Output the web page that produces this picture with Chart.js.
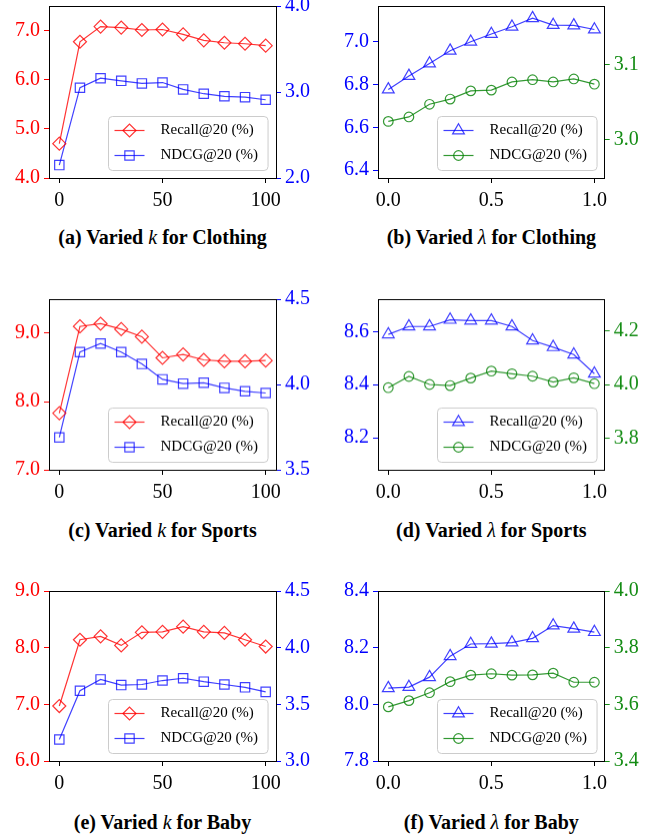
<!DOCTYPE html>
<html>
<head>
<meta charset="utf-8">
<script src="https://cdn.jsdelivr.net/npm/chart.js@4.4.0/dist/chart.umd.min.js"></script>
<style>
body { margin: 0; background: #fff; width: 666px; height: 838px; position: relative; overflow: hidden; }
canvas { position: absolute; }
.cap { position: absolute; width: 300px; text-align: center; font: bold 20px "Liberation Serif", "Times New Roman", serif; line-height: 20px; color: #000; white-space: nowrap; }
.cap i { font-weight: normal; }
</style>
</head>
<body>
<div id="wrap"></div>
<script>
// x values and ticks
const kValues = [0, 10, 20, 30, 40, 50, 60, 70, 80, 90, 100]
const lambdaValues = [0, 0.1, 0.2, 0.3, 0.4, 0.5, 0.6, 0.7, 0.8, 0.9, 1.0]
const kTicks = [0, 50, 100]
const lambdaTicks = [0, 0.5, 1.0]

// Clothing
const clothingKRecall = [4.70, 6.78, 7.09, 7.07, 7.02, 7.03, 6.93, 6.81, 6.76, 6.74, 6.70]
const clothingKNdcg = [2.15, 3.05, 3.16, 3.13, 3.10, 3.11, 3.03, 2.98, 2.95, 2.94, 2.91]
const clothingLRecall = [6.777, 6.840, 6.898, 6.958, 7.000, 7.036, 7.070, 7.110, 7.078, 7.076, 7.057]
const clothingLNdcg = [3.024, 3.030, 3.047, 3.054, 3.065, 3.066, 3.077, 3.080, 3.077, 3.081, 3.074]
// Sports
const sportsKRecall = [7.83, 9.10, 9.14, 9.06, 8.95, 8.64, 8.69, 8.61, 8.59, 8.59, 8.60]
const sportsKNdcg = [3.69, 4.19, 4.24, 4.19, 4.12, 4.03, 4.005, 4.01, 3.98, 3.96, 3.95]
const sportsLRecall = [8.589, 8.619, 8.619, 8.644, 8.641, 8.641, 8.619, 8.566, 8.541, 8.513, 8.441]
const sportsLNdcg = [3.988, 4.030, 4.000, 3.996, 4.024, 4.050, 4.040, 4.031, 4.009, 4.025, 4.003]
// Baby
const babyKRecall = [6.97, 8.14, 8.20, 8.04, 8.27, 8.28, 8.37, 8.28, 8.26, 8.14, 8.02]
const babyKNdcg = [3.19, 3.62, 3.72, 3.67, 3.675, 3.71, 3.73, 3.70, 3.675, 3.65, 3.61]
const babyLRecall = [8.057, 8.061, 8.096, 8.170, 8.213, 8.214, 8.218, 8.233, 8.278, 8.267, 8.255]
const babyLNdcg = [3.591, 3.613, 3.641, 3.680, 3.703, 3.708, 3.703, 3.704, 3.710, 3.678, 3.678]

// y ticks and limits
const aLeftTicks = [4.0, 5.0, 6.0, 7.0], aLeftLim = [4.0, 7.51]
const aRightTicks = [2.0, 3.0, 4.0], aRightLim = [2.0, 4.0]
const bLeftTicks = [6.4, 6.6, 6.8, 7.0], bLeftLim = [6.363, 7.167]
const bRightTicks = [3.0, 3.1], bRightLim = [2.948, 3.179]
const cLeftTicks = [7.0, 8.0, 9.0], cLeftLim = [7.0, 9.5]
const cRightTicks = [3.5, 4.0, 4.5], cRightLim = [3.5, 4.5]
const dLeftTicks = [8.2, 8.4, 8.6], dLeftLim = [8.079, 8.722]
const dRightTicks = [3.8, 4.0, 4.2], dRightLim = [3.681, 4.319]
const eLeftTicks = [6.0, 7.0, 8.0, 9.0], eLeftLim = [6.0, 9.0]
const eRightTicks = [3.0, 3.5, 4.0, 4.5], eRightLim = [3.0, 4.5]
const fLeftTicks = [7.8, 8.0, 8.2, 8.4], fLeftLim = [7.8, 8.4]
const fRightTicks = [3.4, 3.6, 3.8, 4.0], fRightLim = [3.4, 4.0]

const recallLabel = 'Recall@20 (%)'
const ndcgLabel = 'NDCG@20 (%)'

const RED = 'rgba(255,0,0,0.8)'
const BLUE = 'rgba(0,0,255,0.75)'
const GREEN = 'rgba(0,128,0,0.8)'
const RED_T = '#ff0000'
const BLUE_T = '#0000ff'
const GREEN_T = 'rgb(20,140,20)'

const SERIF = '"Liberation Serif", "Times New Roman", serif'
Chart.defaults.font.family = SERIF
Chart.defaults.font.size = 20
Chart.defaults.color = '#000'

const PAD_TOP = 15
const X_AXIS_H = 45
const LINE_W = 1.2

const boxLegend = {
    id: 'boxLegend',
    afterDatasetsDraw(chart) {
        const ctx = chart.ctx
        const a = chart.chartArea
        ctx.save()
        // top spine
        ctx.strokeStyle = '#000'
        ctx.lineWidth = 1
        ctx.beginPath()
        ctx.moveTo(a.left, Math.round(a.top) + 0.5)
        ctx.lineTo(a.right, Math.round(a.top) + 0.5)
        ctx.stroke()

        ctx.font = '15px ' + SERIF
        const tw = Math.max(...chart.data.datasets.map(d => ctx.measureText(d.label).width))
        const w = 52 + tw + 10, h = 54
        const x = Math.round(a.right - 8.5 - w) + 0.5
        const y = Math.round(a.bottom - 8.5 - h) + 0.5
        ctx.beginPath()
        ctx.roundRect(x, y, w, h, 4)
        ctx.fillStyle = 'rgba(255,255,255,0.8)'
        ctx.fill()
        ctx.strokeStyle = '#cccccc'
        ctx.stroke()
        chart.data.datasets.forEach((d, i) => {
            const cy = y + 14 + i * 25
            ctx.strokeStyle = d.borderColor
            ctx.lineWidth = LINE_W
            ctx.beginPath()
            ctx.moveTo(x + 6, cy)
            ctx.lineTo(x + 36, cy)
            ctx.stroke()
            ctx.fillStyle = 'rgba(0,0,0,0)'
            Chart.helpers.drawPoint(ctx, { pointStyle: d.pointStyle, radius: d.pointRadius, rotation: 0, borderWidth: LINE_W }, x + 21, cy)
            ctx.fillStyle = '#000'
            ctx.textBaseline = 'middle'
            ctx.textAlign = 'left'
            ctx.fillText(d.label, x + 52, cy)
        })
        ctx.restore()
    }
}

function fixedTicks(list) {
    return function (scale) {
        scale.ticks = list.map(v => ({ value: v }))
    }
}

function yAxis(pos, ticks, lim, color, width) {
    return {
        type: 'linear',
        position: pos,
        min: lim[0],
        max: lim[1],
        afterBuildTicks: fixedTicks(ticks),
        afterFit: s => { s.width = width },
        grid: { drawOnChartArea: false, tickLength: 5, color: color, tickColor: color },
        border: { display: true, color: '#000', width: 1 },
        ticks: { color: color, padding: 4, callback: v => v.toFixed(1) }
    }
}

function makePanel(p) {
    const cv = document.createElement('canvas')
    const H = PAD_TOP + p.plotH + X_AXIS_H
    cv.width = 333
    cv.height = H
    cv.style.left = p.left + 'px'
    cv.style.top = (p.plotTop - PAD_TOP) + 'px'
    cv.style.width = '333px'
    cv.style.height = H + 'px'
    document.getElementById('wrap').appendChild(cv)

    const mk = (s, axis) => ({
        label: s.label,
        data: p.xs.map((x, i) => ({ x: x, y: s.values[i] })),
        yAxisID: axis,
        borderColor: s.color,
        borderWidth: LINE_W,
        pointStyle: s.style,
        pointRadius: s.r,
        pointHoverRadius: s.r,
        pointBorderColor: s.color,
        pointBackgroundColor: 'rgba(0,0,0,0)',
        pointBorderWidth: LINE_W,
        tension: 0,
        clip: false
    })

    new Chart(cv, {
        type: 'line',
        data: { datasets: [mk(p.s1, 'yL'), mk(p.s2, 'yR')] },
        options: {
            responsive: false,
            animation: false,
            devicePixelRatio: 1,
            layout: { padding: { top: PAD_TOP, left: 0, right: 0, bottom: 0 } },
            plugins: { legend: { display: false }, tooltip: { enabled: false } },
            scales: {
                x: {
                    type: 'linear',
                    min: p.xLim[0],
                    max: p.xLim[1],
                    afterBuildTicks: fixedTicks(p.xTicks),
                    afterFit: s => { s.height = X_AXIS_H },
                    grid: { drawOnChartArea: false, tickLength: 5, color: '#000' },
                    border: { display: true, color: '#000', width: 1 },
                    ticks: { color: '#000', padding: 6, maxRotation: 0, callback: p.xFmt }
                },
                yL: yAxis('left', p.leftTicks, p.leftLim, p.leftColor, p.wl),
                yR: yAxis('right', p.rightTicks, p.rightLim, p.rightColor, p.wr)
            }
        },
        plugins: [boxLegend]
    })

    const cap = document.createElement('div')
    cap.className = 'cap'
    cap.innerHTML = p.caption
    cap.style.left = (p.left + p.wl + (333 - p.wl - p.wr) / 2 - 150) + 'px'
    cap.style.top = (p.capBase - 16.75) + 'px'
    document.body.appendChild(cap)
}

const kFmt = v => String(v)
const lFmt = v => v.toFixed(1)

const leftCol = { left: 0, wl: 49, wr: 57, xs: kValues, xTicks: kTicks, xLim: [-5, 105], xFmt: kFmt, leftColor: RED_T, rightColor: BLUE_T }
const rightCol = { left: 333, wl: 45, wr: 61.3, xs: lambdaValues, xTicks: lambdaTicks, xLim: [-0.05, 1.05], xFmt: lFmt, leftColor: BLUE_T, rightColor: GREEN_T }

const rows = [
    { plotTop: 5, plotH: 173, capBase: 244 },
    { plotTop: 298.3, plotH: 171.7, capBase: 536.5 },
    { plotTop: 590, plotH: 171, capBase: 829 }
]

const diamond = (v) => ({ label: recallLabel, values: v, color: RED, style: 'rectRot', r: 6.5 })
const square = (v) => ({ label: ndcgLabel, values: v, color: BLUE, style: 'rect', r: 6.6 })
const tri = (v) => ({ label: recallLabel, values: v, color: BLUE, style: 'triangle', r: 6.8 })
const circ = (v) => ({ label: ndcgLabel, values: v, color: GREEN, style: 'circle', r: 4.8 })

makePanel(Object.assign({}, leftCol, rows[0], { s1: diamond(clothingKRecall), s2: square(clothingKNdcg), leftTicks: aLeftTicks, leftLim: aLeftLim, rightTicks: aRightTicks, rightLim: aRightLim, caption: '(a) Varied <i>k</i> for Clothing' }))
makePanel(Object.assign({}, rightCol, rows[0], { s1: tri(clothingLRecall), s2: circ(clothingLNdcg), leftTicks: bLeftTicks, leftLim: bLeftLim, rightTicks: bRightTicks, rightLim: bRightLim, caption: '(b) Varied <i>λ</i> for Clothing' }))
makePanel(Object.assign({}, leftCol, rows[1], { s1: diamond(sportsKRecall), s2: square(sportsKNdcg), leftTicks: cLeftTicks, leftLim: cLeftLim, rightTicks: cRightTicks, rightLim: cRightLim, caption: '(c) Varied <i>k</i> for Sports' }))
makePanel(Object.assign({}, rightCol, rows[1], { s1: tri(sportsLRecall), s2: circ(sportsLNdcg), leftTicks: dLeftTicks, leftLim: dLeftLim, rightTicks: dRightTicks, rightLim: dRightLim, caption: '(d) Varied <i>λ</i> for Sports' }))
makePanel(Object.assign({}, leftCol, rows[2], { s1: diamond(babyKRecall), s2: square(babyKNdcg), leftTicks: eLeftTicks, leftLim: eLeftLim, rightTicks: eRightTicks, rightLim: eRightLim, caption: '(e) Varied <i>k</i> for Baby' }))
makePanel(Object.assign({}, rightCol, rows[2], { s1: tri(babyLRecall), s2: circ(babyLNdcg), leftTicks: fLeftTicks, leftLim: fLeftLim, rightTicks: fRightTicks, rightLim: fRightLim, caption: '(f) Varied <i>λ</i> for Baby' }))
</script>
</body>
</html>
